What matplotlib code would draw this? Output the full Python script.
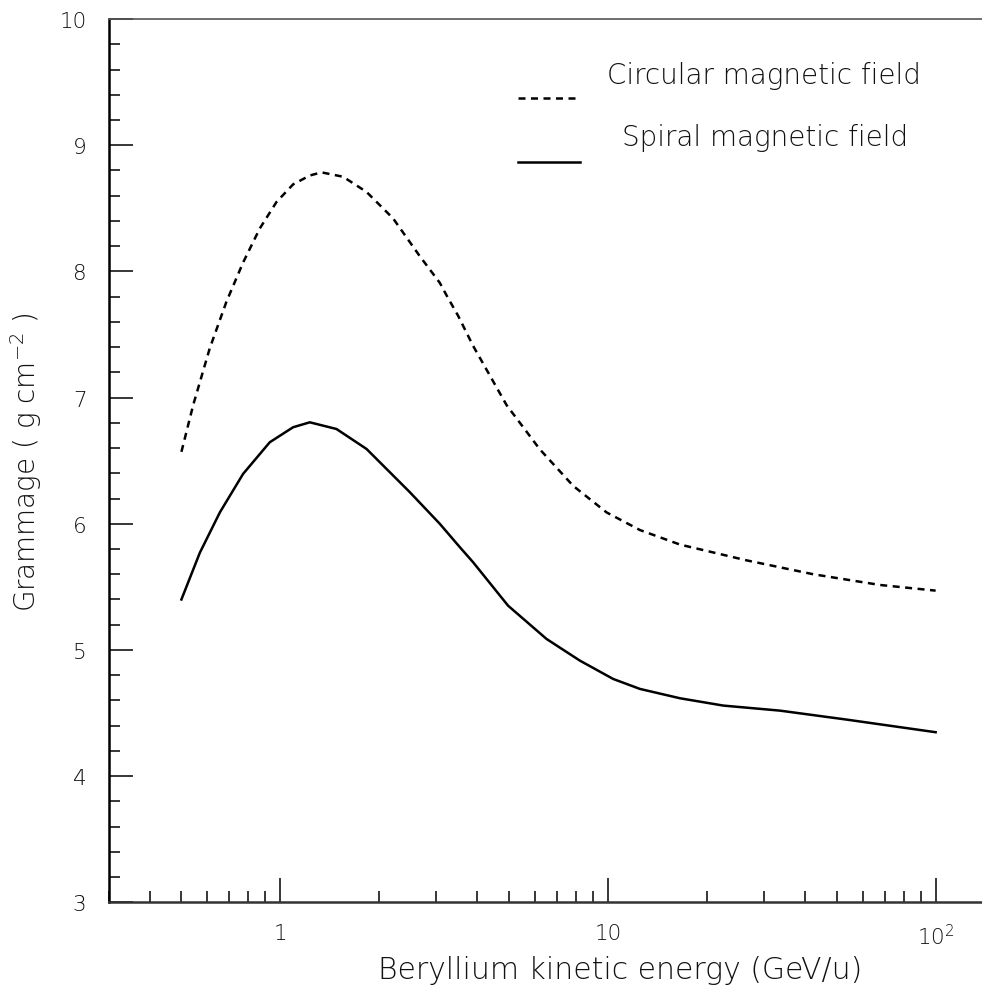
import matplotlib
matplotlib.use("Agg")
import matplotlib.pyplot as plt
from matplotlib.ticker import FixedLocator, NullFormatter, LogLocator
from matplotlib.lines import Line2D

# Circular magnetic field (dashed)
circ_E = [0.50, 0.543, 0.610, 0.686, 0.771, 0.867, 0.975, 1.096, 1.232, 1.338,
          1.557, 1.835, 2.212, 2.669, 3.07, 3.22, 3.49, 3.88, 4.91, 6.20, 7.84,
          9.91, 12.53, 16.6, 26.5, 42.3, 67.6, 100.0]
circ_G = [6.57, 6.94, 7.39, 7.76, 8.07, 8.34, 8.55, 8.69, 8.76, 8.785,
          8.75, 8.63, 8.42, 8.12, 7.91, 7.81, 7.65, 7.41, 6.94, 6.59, 6.30,
          6.09, 5.95, 5.835, 5.71, 5.60, 5.515, 5.47]

# Spiral magnetic field (solid)
spir_E = [0.50, 0.569, 0.655, 0.771, 0.930, 1.096, 1.232, 1.486, 1.835, 2.488,
          3.07, 3.536, 3.88, 4.96, 6.50, 8.22, 10.38, 12.53, 16.6, 22.5,
          33.5, 53.5, 100.0]
spir_G = [5.40, 5.77, 6.09, 6.395, 6.646, 6.765, 6.804, 6.751, 6.593, 6.25,
          6.00, 5.814, 5.695, 5.351, 5.087, 4.915, 4.77, 4.691, 4.617, 4.559,
          4.519, 4.448, 4.348]

legend_labels = ["Circular magnetic field", "Spiral magnetic field"]
y_ticks = [3, 4, 5, 6, 7, 8, 9, 10]
x_ticks = [1, 10, 100]
x_ticklabels = ["1", "10", r"10$^{2}$"]

plt.rcParams['font.family'] = ['DejaVu Sans']
plt.rcParams['font.weight'] = 'ultralight'
plt.rcParams['mathtext.fontset'] = 'custom'
plt.rcParams['mathtext.rm'] = 'DejaVu Sans:ultralight'
plt.rcParams['mathtext.it'] = 'DejaVu Sans:ultralight'

TXT = '#111111'
fig = plt.figure(figsize=(9.82, 9.87), dpi=100)
ax = fig.add_axes([0.1107, 0.0848, 1 - 0.1107, 0.9797 - 0.0848])

DASH = (0, (2.8, 2.2))
LW = 1.8
ax.plot(circ_E, circ_G, color='black', lw=LW, linestyle=DASH)
ax.plot(spir_E, spir_G, color='black', lw=LW)

ax.set_xscale('log')
ax.set_xlim(0.3, 138.5)
ax.set_ylim(3, 10)

ax.xaxis.set_major_locator(FixedLocator(x_ticks))
ax.set_xticklabels(x_ticklabels)
ax.xaxis.set_minor_locator(LogLocator(base=10, subs=[2, 3, 4, 5, 6, 7, 8, 9]))
ax.xaxis.set_minor_formatter(NullFormatter())

ax.set_yticks(y_ticks)
ax.set_yticks([v / 10 for v in range(30, 101, 2)], minor=True)

ax.tick_params(axis='both', which='major', direction='in', length=17, width=1.1,
               labelsize=15.5, labelcolor=TXT)
ax.tick_params(axis='y', which='major', pad=16)
ax.tick_params(axis='x', which='major', pad=15)
ax.tick_params(axis='both', which='minor', direction='in', length=8, width=1.1)
ax.tick_params(top=False, right=False, which='both')

ax.spines['right'].set_visible(False)
ax.spines['left'].set_linewidth(1.8)
ax.spines['bottom'].set_linewidth(1.8)
ax.spines['bottom'].set_color('#333333')
ax.spines['top'].set_linewidth(1.2)
ax.spines['top'].set_color('#555555')

# Legend drawn by hand
ax.add_line(Line2D([0.4689, 0.5394], [0.9106, 0.9106], transform=ax.transAxes,
                   color='black', lw=LW, linestyle=DASH))
ax.add_line(Line2D([0.4689, 0.5394], [0.8382, 0.8382], transform=ax.transAxes,
                   color='black', lw=LW))
fig.text(607 / 982, 1 - 76 / 987, legend_labels[0], fontsize=20, va='center',
         ha='left', color=TXT)
fig.text(622 / 982, 1 - 138 / 987, legend_labels[1], fontsize=20, va='center',
         ha='left', color=TXT)

fig.text(862 / 982, 1 - 971 / 987, "Beryllium kinetic energy (GeV/u)", fontsize=21.5,
         ha='right', va='center', color=TXT)
fig.text(26 / 982, 1 - 462 / 987, r"Grammage ( g cm$^{-2}$ )", fontsize=20,
         rotation=90, ha='center', va='center', color=TXT)

fig.savefig("out.png", dpi=100)
